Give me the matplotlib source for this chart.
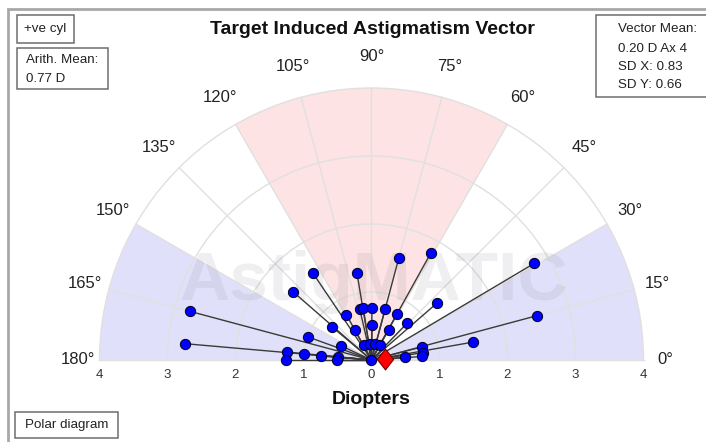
import numpy as np
import matplotlib
matplotlib.use("Agg")
import matplotlib.pyplot as plt
from matplotlib.patches import Wedge, Arc, Rectangle
from matplotlib.path import Path

plt.rcParams['font.family'] = ['Liberation Sans', 'DejaVu Sans']

# ---- data (magnitude in D, axis in degrees) ----
magnitudes = [1.55, 1.80, 1.54, 1.29, 1.52, 1.28, 0.76, 0.77, 0.77, 0.77,
              0.77, 0.77, 0.76, 0.51, 0.51, 0.51, 0.76, 1.00, 0.50, 0.245,
              0.24, 0.245, 0.25, 1.25, 1.25, 1.00, 0.75, 0.50, 0.50, 0.0,
              0.76, 0.76, 0.75, 0.50, 2.77, 2.76, 2.78, 2.52, 1.51]
axes_deg = [75, 61, 124, 99.5, 139, 41, 119, 103, 99, 89.5,
            75, 61, 140, 119, 89, 60.5, 46, 160, 155, 118,
            97, 78, 61, 174.6, 180, 175, 175.5, 175.5, 180, 0,
            14.5, 8, 4, 4.5, 165, 175, 30.7, 15, 10]
mean_mag = 0.20
mean_axis = 4

angle_ticks = list(range(0, 181, 15))
angle_labels = [f"{a}\u00b0" for a in angle_ticks]
radial_ticks = [-4, -3, -2, -1, 0, 1, 2, 3, 4]
radial_labels = ["4", "3", "2", "1", "0", "1", "2", "3", "4"]
blue_zones = [(0, 30), (150, 180)]
pink_zones = [(60, 120)]

title = "Target Induced Astigmatism Vector"
xlabel = "Diopters"
legend_lines = ["Vector Mean:", "0.20 D Ax 4", "SD X: 0.83", "SD Y: 0.66"]
arith_lines = ["Arith. Mean:", "0.77 D"]

# ---- figure ----
W, H = 706, 442
fig = plt.figure(figsize=(W / 100, H / 100), dpi=100)
ax = fig.add_axes([0, 0, 1, 1])
ppu = 68.0
cx, cy = 371.5, 360.0
ax.set_xlim(-cx / ppu, (W - cx) / ppu)
ax.set_ylim(-(H - cy) / ppu, cy / ppu)
ax.axis('off')

R = 4.0
for a0, a1 in blue_zones:
    ax.add_patch(Wedge((0, 0), R, a0, a1, facecolor='#e0e0fa', edgecolor='none', zorder=1))
for a0, a1 in pink_zones:
    ax.add_patch(Wedge((0, 0), R, a0, a1, facecolor='#fde3e3', edgecolor='none', zorder=1))

grid_c = '#e0e0e0'
for r in [1, 2, 3, 4]:
    ax.add_patch(Arc((0, 0), 2 * r, 2 * r, theta1=0, theta2=180, color=grid_c, lw=1, zorder=2))
for a in angle_ticks:
    t = np.deg2rad(a)
    ax.plot([0, R * np.cos(t)], [0, R * np.sin(t)], color=grid_c, lw=1, zorder=2)

# angle labels
for a, lab in zip(angle_ticks, angle_labels):
    t = np.deg2rad(a)
    rl = 4.32 + 0.15 * np.sin(t)
    ax.text(rl * np.cos(t), rl * np.sin(t), lab, ha='center', va='center',
            fontsize=12, color='#222222', zorder=3)

# radial tick labels
for x, lab in zip(radial_ticks, radial_labels):
    ax.text(x, -0.22, lab, ha='center', va='center', fontsize=9.5, color='#333333')
ax.text(0, -0.575, xlabel, ha='center', va='center', fontsize=14,
        fontweight='bold', color='#111111')

# watermark
ax.text(0.03, 1.15, "AstigMATIC", ha='center', va='center', fontsize=50,
        fontweight='bold', color='#808090', alpha=0.12, zorder=3)

# vectors
th = np.deg2rad(np.array(axes_deg, dtype=float))
mg = np.array(magnitudes, dtype=float)
xs = mg * np.cos(th)
ys = mg * np.sin(th)
for x, y in zip(xs, ys):
    ax.plot([0, x], [0, y], color='#3a3a3a', lw=1.0, zorder=4)
ax.plot(xs, ys, 'o', ms=7.4, mfc='#0000ff', mec='#000022', mew=0.7, zorder=5, ls='none')

diamond = Path([(0, 1), (0.78, 0), (0, -1), (-0.78, 0), (0, 1)],
               [Path.MOVETO, Path.LINETO, Path.LINETO, Path.LINETO, Path.CLOSEPOLY])
mt = np.deg2rad(mean_axis)
ax.plot([mean_mag * np.cos(mt)], [mean_mag * np.sin(mt)], marker=diamond, ms=15,
        mfc='#ff0000', mec='#7a0000', mew=0.8, zorder=6, ls='none')

# ---- title ----
fig.text(372 / W, 1 - 30 / H, title, ha='center', va='center', fontsize=14,
         fontweight='bold', color='#111111')


def px(x, y):
    return x / W, 1 - y / H


def box(x0, y0, x1, y1):
    fx0, fy1 = px(x0, y0)
    fx1, fy0 = px(x1, y1)
    fig.patches.append(Rectangle((fx0, fy0), fx1 - fx0, fy1 - fy0, transform=fig.transFigure,
                                 facecolor='white', edgecolor='#6e6e6e', lw=1.1, zorder=10))


# outer frame
fx, fy = px(8, 9)
fig.patches.append(Rectangle((fx, -0.1), 1.2, fy + 0.1, transform=fig.transFigure,
                             facecolor='none', edgecolor='#a8a8a8', lw=2.0, zorder=0))

fs_box = 9.6
box(16.5, 15, 73.5, 42.5)
fig.text(*px(45, 29), "+ve cyl", ha='center', va='center', fontsize=fs_box, color='#222222', zorder=11)

box(16.5, 47.5, 107.5, 89)
fig.text(*px(25.5, 60), arith_lines[0], ha='left', va='center', fontsize=fs_box, color='#222222', zorder=11)
fig.text(*px(25.5, 79), arith_lines[1], ha='left', va='center', fontsize=fs_box, color='#222222', zorder=11)

box(596, 14.5, 712, 96.5)
ys_leg = [29.5, 48.5, 67, 85.5]
for s, yy in zip(legend_lines, ys_leg):
    fig.text(*px(618, yy), s, ha='left', va='center', fontsize=fs_box, color='#222222', zorder=11)
leg_ax = fig.add_axes([0, 0, 1, 1], facecolor='none')
leg_ax.set_xlim(0, W)
leg_ax.set_ylim(H, 0)
leg_ax.axis('off')
leg_ax.plot([606], [29.5], marker=diamond, ms=9.5, mfc='#ff0000', mec='#7a0000', mew=0.6,
            ls='none', zorder=12)

box(15, 412, 118, 438)
fig.text(*px(66.5, 425), "Polar diagram", ha='center', va='center', fontsize=fs_box,
         color='#222222', zorder=11)

fig.savefig("out.png", dpi=100)
